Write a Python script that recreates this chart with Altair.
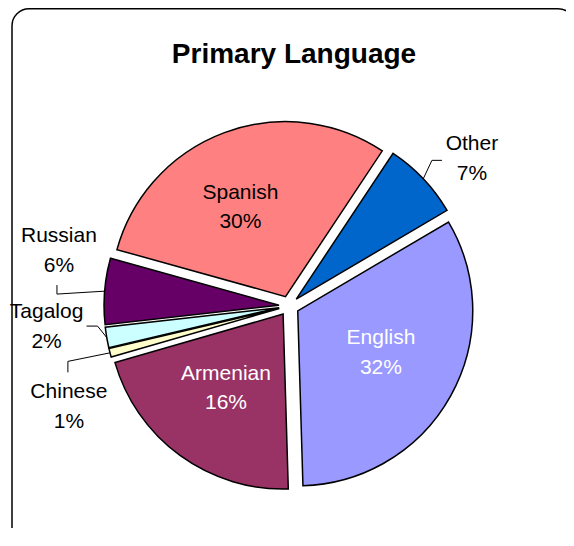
import math
import altair as alt
import pandas as pd

# ---------------- data ----------------
languages = ["English", "Armenian", "Chinese", "Tagalog", "Russian", "Spanish", "Other"]
shares = [33.0, 21.0, 0.8, 1.9, 6.1, 30.0, 7.2]          # slice sizes as drawn
pct_labels = ["32%", "16%", "1%", "2%", "6%", "30%", "7%"]  # label texts as printed
slice_colors = ["#9999FF", "#993366", "#FFFFCC", "#CCFFFF", "#660066", "#FF8080", "#0066CC"]

# ---------------- layout ----------------
W, H = 558, 520
CX, CY = 281, 298          # pie centre inside the view
START_DEG = 59.5           # first slice angle (clockwise from 12 o'clock)
RADIUS = 175
EXPLODE = 10
label_angle = [116.1, 217.9, 245.7, 265.5, 283.9, 334.2, 50.9]
label_radius = [102.4, 102.6, 241.5, 243.2, 237.0, 111.6, 235.7]
label_color = ["white", "white", "black", "black", "black", "black", "black"]
leader_side = [None, None, "top", "right", "bottom", None, "left"]
FONT = "Liberation Sans"

# ---------------- tables ----------------
rows, labels, leaders = [], [], []
cum = 0.0
for i, lang in enumerate(languages):
    t0, t1 = cum, cum + shares[i]
    cum = t1
    mid = math.radians(START_DEG + (t0 + t1) / 2 * 3.6)
    rows.append(dict(lang=lang, t0=t0, t1=t1, order=i,
                     dx=EXPLODE * math.sin(mid), dy=EXPLODE * math.cos(mid)))
    a = math.radians(label_angle[i])
    lx, ly = label_radius[i] * math.sin(a), label_radius[i] * math.cos(a)
    labels.append(dict(lang=lang, lx=lx, ly=ly, name=lang, pct=pct_labels[i],
                       tcolor=label_color[i]))
    side = leader_side[i]
    if side:
        px, py = (RADIUS + EXPLODE) * math.sin(mid), (RADIUS + EXPLODE) * math.cos(mid)
        if side == "left":
            ex, ey = lx - 30, ly - 3
            bx, by = ex - 10, ey
        elif side == "right":
            ex, ey = lx + 40, ly - 1
            bx, by = ex + 11, ey
        elif side == "bottom":
            ex, ey = lx - 2, ly - 36
            bx, by = ex, ey - 9
        else:
            ex, ey = lx - 1, ly + 33
            bx, by = ex, ey + 11
        for k, (qx, qy) in enumerate([(px, py), (bx, by), (ex, ey)]):
            leaders.append(dict(lang=lang, k=k, x=qx, y=qy))

slices_df = pd.DataFrame(rows)
labels_df = pd.DataFrame(labels)
leaders_df = pd.DataFrame(leaders)
one = pd.DataFrame({"k": [0]})

xs = alt.Scale(domain=[-CX, W - CX], nice=False, zero=False)
ys = alt.Scale(domain=[-(H - CY), CY], nice=False, zero=False)
ts = alt.Scale(domain=[0, 100],
               range=[math.radians(START_DEG), math.radians(START_DEG) + 2 * math.pi])

shadow = alt.Chart(one).mark_rect(fill="black", cornerRadius=17).encode(
    x=alt.value(7), x2=alt.value(570), y=alt.value(4), y2=alt.value(541))
frame = alt.Chart(one).mark_rect(fill="white", stroke="black", strokeWidth=1.5,
                                 cornerRadius=17).encode(
    x=alt.value(4), x2=alt.value(567), y=alt.value(0.75), y2=alt.value(538))

title = alt.Chart(one).mark_text(text="Primary Language", font=FONT, fontSize=28,
                                 fontWeight="bold", align="center",
                                 baseline="alphabetic", color="black").encode(
    x=alt.value(286), y=alt.value(55))

pie = alt.Chart(slices_df).mark_arc(radius=RADIUS, stroke="black", strokeWidth=1.5).encode(
    x=alt.X("dx:Q", scale=xs, axis=None),
    y=alt.Y("dy:Q", scale=ys, axis=None),
    theta=alt.Theta("t0:Q", scale=ts),
    theta2="t1:Q",
    color=alt.Color("lang:N", scale=alt.Scale(domain=languages, range=slice_colors),
                    legend=None),
)

lead = alt.Chart(leaders_df).mark_line(color="black", strokeWidth=1).encode(
    x=alt.X("x:Q", scale=xs, axis=None),
    y=alt.Y("y:Q", scale=ys, axis=None),
    detail="lang:N",
    order="k:Q",
)

name_txt = alt.Chart(labels_df).mark_text(font=FONT, fontSize=21, align="center",
                                          baseline="alphabetic", dy=-7).encode(
    x=alt.X("lx:Q", scale=xs, axis=None),
    y=alt.Y("ly:Q", scale=ys, axis=None),
    text="name:N",
    color=alt.Color("tcolor:N", scale=None),
)
pct_txt = alt.Chart(labels_df).mark_text(font=FONT, fontSize=21, align="center",
                                         baseline="alphabetic", dy=22.5).encode(
    x=alt.X("lx:Q", scale=xs, axis=None),
    y=alt.Y("ly:Q", scale=ys, axis=None),
    text="pct:N",
    color=alt.Color("tcolor:N", scale=None),
)

chart = alt.layer(shadow, frame, title, pie, lead, name_txt, pct_txt).properties(
    width=W, height=H, padding=0,
    autosize=alt.AutoSizeParams(type="none"),
).configure_view(strokeWidth=0)

chart.save("out.html", embed_options={"renderer": "svg", "actions": False})
